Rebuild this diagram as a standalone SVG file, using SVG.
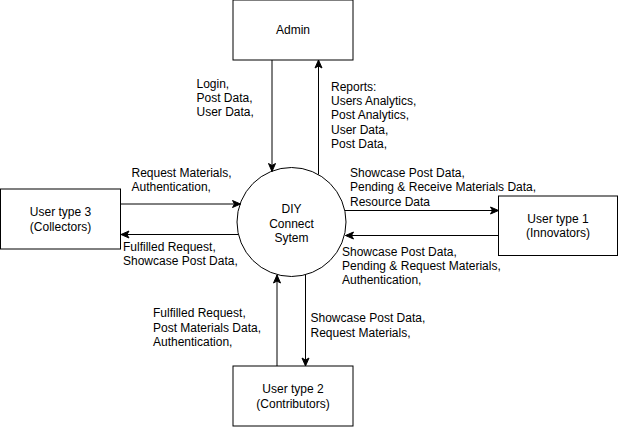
<svg xmlns="http://www.w3.org/2000/svg" width="619" height="427" viewBox="0 0 619 427">
  <defs>
    <marker id="arrow" markerUnits="userSpaceOnUse" markerWidth="10" markerHeight="10" viewBox="0 0 10 10" refX="9" refY="5" orient="auto">
      <path d="M1,1.5 L9,5 L1,8.5 L3,5 Z" fill="#000" stroke="#000" stroke-width="1"/>
    </marker>
  </defs>
  <style>
    .box { fill: #fff; stroke: #000; stroke-width: 1; }
    .edge { fill: none; stroke: #000; stroke-width: 1; marker-end: url(#arrow); }
    text { font-family: "Liberation Sans", Arial, Helvetica, sans-serif; font-size: 12px; fill: #000; }
    .c { text-anchor: middle; }
  </style>
  <rect width="619" height="427" fill="#fff"/>

  <g id="admin">
    <rect class="box" x="233" y="0" width="120" height="60"/>
    <text class="c" x="293" y="34">Admin</text>
  </g>

  <g id="system">
    <circle class="box" cx="291.5" cy="222" r="54.5"/>
    <text class="c" x="291.5" y="213">DIY</text>
    <text class="c" x="291.5" y="227.5">Connect</text>
    <text class="c" x="291.5" y="242">Sytem</text>
  </g>

  <g id="user3">
    <rect class="box" x="0.5" y="189" width="120" height="60"/>
    <text class="c" x="60.5" y="216">User type 3</text>
    <text class="c" x="60.5" y="230.5">(Collectors)</text>
  </g>

  <g id="user1">
    <rect class="box" x="498.5" y="196" width="119" height="59.5"/>
    <text class="c" x="558" y="222.5">User type 1</text>
    <text class="c" x="558" y="237">(Innovators)</text>
  </g>

  <g id="user2">
    <rect class="box" x="233" y="366" width="120" height="60"/>
    <text class="c" x="293" y="393">User type 2</text>
    <text class="c" x="293" y="407.5">(Contributors)</text>
  </g>

  <g id="connectors">
    <line class="edge" x1="272" y1="60" x2="272" y2="171.5"/>
    <line class="edge" x1="318.5" y1="174.5" x2="318.5" y2="60"/>
    <line class="edge" x1="120.5" y1="204" x2="240.5" y2="204"/>
    <line class="edge" x1="238" y1="234.5" x2="121" y2="234.5"/>
    <line class="edge" x1="345" y1="210.5" x2="498.5" y2="210.5"/>
    <line class="edge" x1="498.5" y1="235.5" x2="345.5" y2="235.5"/>
    <line class="edge" x1="277" y1="366" x2="277" y2="275"/>
    <line class="edge" x1="305.5" y1="275" x2="305.5" y2="366"/>
  </g>

  <g id="labels">
    <text x="196.5" y="87.5">Login,</text>
    <text x="196.5" y="101.8">Post Data,</text>
    <text x="196.5" y="116">User Data,</text>

    <text x="331" y="90.7">Reports:</text>
    <text x="331" y="105">Users Analytics,</text>
    <text x="331" y="119.3">Post Analytics,</text>
    <text x="331" y="133.6">User Data,</text>
    <text x="331" y="148">Post Data,</text>

    <text x="131.5" y="177">Request Materials,</text>
    <text x="131.5" y="191.4">Authentication,</text>

    <text x="123" y="251">Fulfilled Request,</text>
    <text x="123" y="265.4">Showcase Post Data,</text>

    <text x="350" y="177">Showcase Post Data,</text>
    <text x="350" y="191.3">Pending &amp; Receive Materials Data,</text>
    <text x="350" y="205.6">Resource Data</text>

    <text x="342" y="255.5">Showcase Post Data,</text>
    <text x="342" y="269.8">Pending &amp; Request Materials,</text>
    <text x="342" y="284">Authentication,</text>

    <text x="153" y="317.3">Fulfilled Request,</text>
    <text x="153" y="331.6">Post Materials Data,</text>
    <text x="153" y="346">Authentication,</text>

    <text x="310.5" y="322.3">Showcase Post Data,</text>
    <text x="310.5" y="336.6">Request Materials,</text>
  </g>
</svg>
